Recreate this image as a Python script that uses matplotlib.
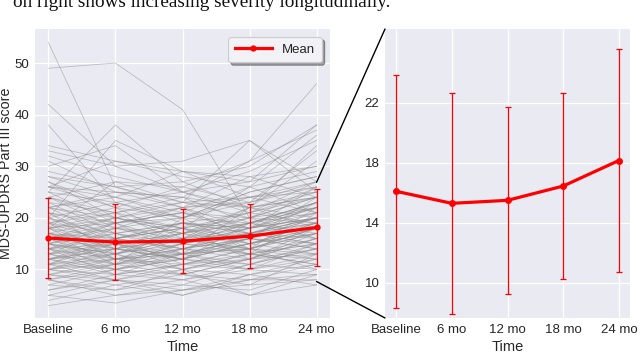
import matplotlib
matplotlib.use("Agg")
import matplotlib.pyplot as plt
from matplotlib.patches import ConnectionPatch
from matplotlib.lines import Line2D
import numpy as np

# ---------------- data ----------------
visits = ["Baseline", "6 mo", "12 mo", "18 mo", "24 mo"]

mean_score = [16.1, 15.3, 15.5, 16.45, 18.15]
std_score = [7.75, 7.35, 6.2, 6.2, 7.45]

high_subjects = [
    [54, 26, 22, 18, 20], [49, 50, 41, 20, 24], [42, 30, 25, 27, 30],
    [38, 23, 20, 25, 28], [25, 38, 27, 22, 24], [20, 35, 29, 24, 26],
    [33, 30, 31, 35, 27], [22, 25, 24, 31, 46], [28, 26, 27, 30, 38],
    [26, 24, 29, 27, 38], [24, 27, 26, 31, 37], [34, 31, 28, 26, 36],
    [32, 28, 25, 29, 35], [30, 34, 25, 22, 34], [26, 31, 29, 28, 30],
    [18, 27, 23, 35, 25], [27, 22, 26, 23, 33], [31, 25, 22, 28, 24],
]

mid_subjects = [
    [12, 14, 13, 15, 17], [15, 13, 16, 14, 18], [18, 16, 14, 17, 20],
    [20, 17, 19, 18, 22], [14, 11, 12, 16, 15], [11, 13, 10, 12, 14],
    [16, 18, 15, 19, 21], [22, 19, 21, 20, 24], [13, 10, 14, 13, 16],
    [17, 15, 17, 21, 19], [19, 21, 18, 16, 23], [10, 12, 11, 14, 13],
    [24, 20, 22, 23, 26], [21, 18, 16, 19, 17], [9, 11, 13, 10, 15],
    [14, 16, 19, 17, 20], [26, 22, 20, 24, 25], [12, 9, 11, 13, 12],
    [16, 14, 12, 15, 19], [18, 20, 17, 22, 24], [11, 8, 10, 9, 12],
    [15, 17, 14, 16, 14], [23, 21, 24, 19, 22], [13, 15, 16, 18, 21],
    [20, 16, 18, 14, 17], [8, 10, 12, 11, 14], [17, 13, 15, 17, 16],
    [25, 23, 19, 21, 27], [12, 14, 17, 15, 18], [19, 15, 13, 16, 20],
    [14, 12, 15, 13, 11], [10, 13, 9, 12, 16], [22, 24, 20, 25, 28],
    [16, 19, 21, 18, 23], [13, 11, 14, 17, 15], [18, 14, 16, 20, 22],
    [11, 15, 12, 10, 13], [27, 20, 23, 22, 25], [15, 12, 13, 14, 17],
    [9, 12, 10, 13, 11], [21, 19, 22, 24, 21], [17, 16, 18, 15, 19],
    [12, 10, 8, 11, 14], [24, 18, 17, 20, 19], [14, 17, 13, 16, 24],
    [16, 11, 15, 18, 20], [19, 22, 16, 17, 21], [10, 9, 13, 14, 12],
    [13, 16, 11, 12, 18], [28, 24, 21, 26, 29], [15, 13, 17, 19, 16],
    [20, 14, 12, 15, 18], [11, 12, 14, 16, 20], [18, 19, 20, 23, 27],
    [8, 11, 9, 12, 13], [23, 17, 19, 18, 22], [14, 15, 10, 13, 15],
    [12, 13, 16, 14, 10], [17, 20, 18, 21, 25], [21, 15, 17, 19, 23],
    [9, 8, 11, 10, 9], [16, 12, 14, 12, 16], [26, 25, 24, 22, 31],
    [13, 14, 12, 17, 19], [19, 17, 15, 14, 18], [11, 10, 12, 15, 17],
    [15, 18, 20, 19, 22], [22, 16, 14, 18, 20], [10, 14, 16, 13, 15],
    [18, 12, 13, 16, 14], [29, 26, 23, 24, 27], [14, 9, 11, 14, 18],
    [12, 16, 18, 20, 26], [17, 14, 19, 17, 15], [20, 23, 25, 21, 24],
    [15, 19, 13, 22, 20], [21, 13, 18, 12, 17], [13, 18, 22, 16, 19],
    [24, 21, 15, 19, 23], [16, 20, 17, 13, 21], [11, 16, 19, 15, 13],
    [19, 12, 16, 22, 18], [14, 19, 15, 18, 26], [17, 11, 20, 14, 22],
    [22, 20, 18, 26, 21], [12, 15, 12, 19, 23], [25, 19, 21, 17, 20],
    [10, 11, 15, 17, 19], [18, 21, 23, 20, 16], [15, 10, 13, 11, 15],
]

low_subjects = [
    [3, 5, 6, 8, 9], [5, 3.5, 6, 7, 8], [7, 6, 8, 5, 7],
    [6, 8, 5, 9, 7], [8, 5, 7, 6, 10], [4, 7, 9, 8, 11],
    [9, 7, 5, 8, 8], [6, 9, 8, 10, 12], [10, 8, 6, 9, 11],
    [7, 10, 9, 7, 13], [8, 6, 10, 5, 9], [5, 8, 7, 11, 10],
]

caption = "on right shows increasing severity longitudinally."

# ---------------- style ----------------
plt.rcParams["font.family"] = ["Liberation Sans", "DejaVu Sans"]
BG = "#EAEAF2"
RED = "#FF0000"
TXT = "#262626"

fig = plt.figure(figsize=(6.4, 3.56), dpi=100)
axL = fig.add_axes([35 / 640, 38 / 356, 295 / 640, 289 / 356])
axR = fig.add_axes([385 / 640, 38 / 356, 245 / 640, 289 / 356])

x = np.arange(len(visits))

for ax in (axL, axR):
    ax.set_facecolor(BG)
    for s in ax.spines.values():
        s.set_visible(False)
    ax.grid(True, color="white", linewidth=0.9)
    ax.set_axisbelow(True)
    ax.tick_params(length=0, labelsize=9.5, colors=TXT, pad=4)
    ax.set_xticks(x)
    ax.set_xticklabels(visits)
    ax.set_xlim(-0.2, 4.2)
    ax.set_xlabel("Time", fontsize=10.5, color=TXT, labelpad=3)

# subjects
for group in (high_subjects, mid_subjects, low_subjects):
    for row in group:
        axL.plot(x, row, color="#8c8c8c", linewidth=0.6, alpha=0.5, zorder=2)

for ax, ms in ((axL, 3.5), (axR, 4)):
    ax.errorbar(x, mean_score, yerr=std_score, color=RED, linewidth=2.3,
                marker="o", markersize=ms, elinewidth=0.9, capsize=2.5,
                capthick=0.9, ecolor=RED, zorder=5)

axL.set_ylim(0.6, 56.6)
axL.set_yticks([10, 20, 30, 40, 50])
axL.set_ylabel("MDS-UPDRS Part III score", fontsize=10.3, color=TXT)
axL.yaxis.set_label_coords(-0.076, 0.5)

axR.set_ylim(7.67, 26.9)
axR.set_yticks([10, 14, 18, 22])

handle = Line2D([], [], color=RED, linewidth=2.3, marker="o", markersize=3.5)
leg = axL.legend([handle], ["Mean"], loc="upper right", fontsize=9.5,
                 frameon=True, fancybox=True, shadow=True, borderpad=0.5,
                 handlelength=2.8, bbox_to_anchor=(0.995, 0.995))
leg.get_frame().set_facecolor("#F2F2F6")
leg.get_frame().set_edgecolor("#CCCCCC")
leg.get_frame().set_linewidth(0.8)
for t in leg.get_texts():
    t.set_color(TXT)

# connecting lines
y0, y1 = axR.get_ylim()
for yv, yf in ((y1, 1.0), (y0, 0.0)):
    con = ConnectionPatch(xyA=(4, yv), coordsA=axL.transData,
                          xyB=(0, yf), coordsB=axR.transAxes,
                          color="black", linewidth=1.0)
    fig.add_artist(con)

fig.text(13 / 640, 1 - 7 / 356, caption, fontsize=13.8,
         family=["Liberation Serif", "DejaVu Serif"], color="#111111",
         ha="left", va="baseline")

fig.savefig("out.png", dpi=100, facecolor="white")
